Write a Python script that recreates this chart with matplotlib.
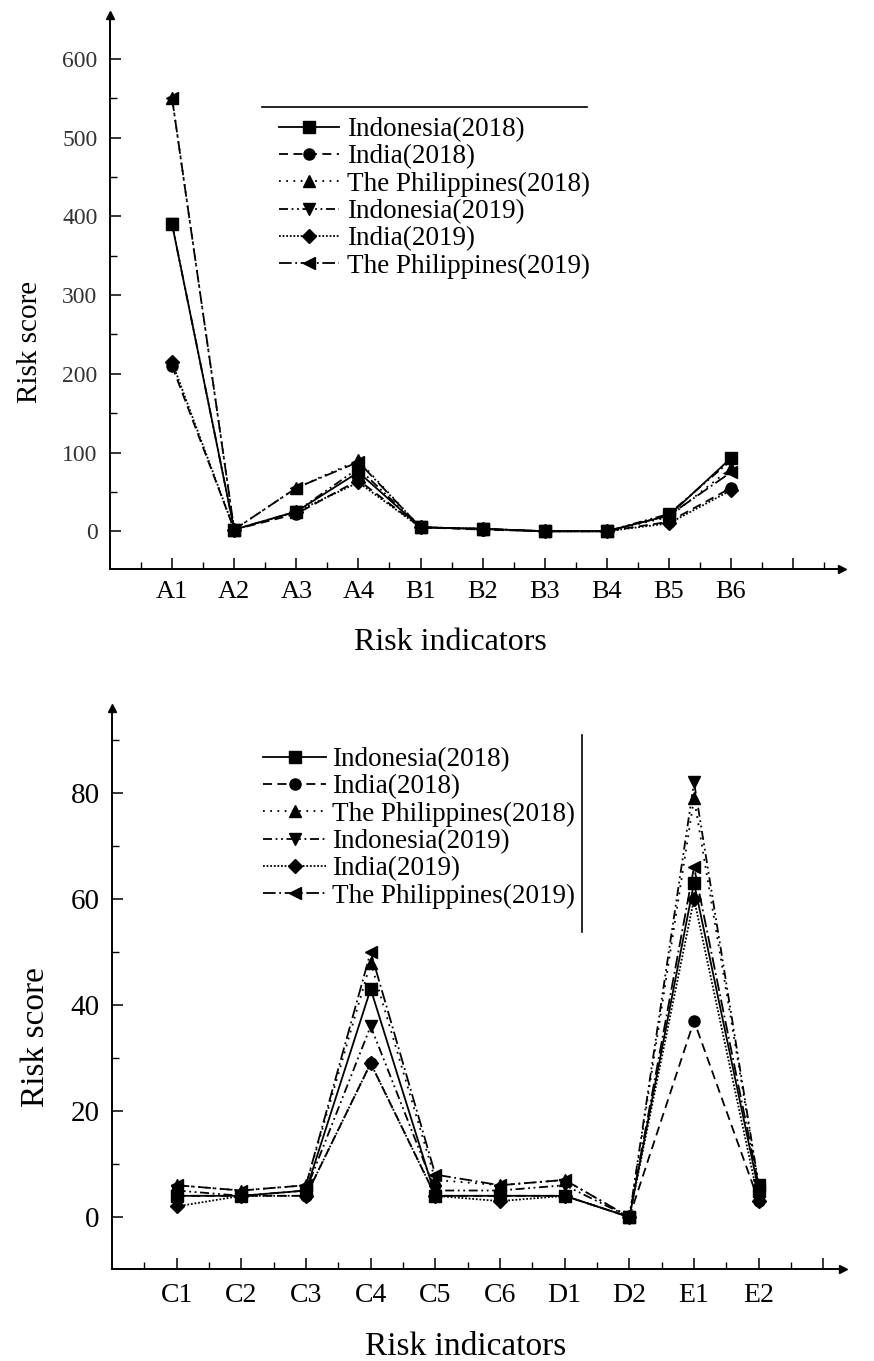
import matplotlib
matplotlib.use("Agg")
import matplotlib.pyplot as plt
from matplotlib.lines import Line2D
from matplotlib.ticker import FixedLocator

plt.rcParams['font.family'] = ['Liberation Serif', 'DejaVu Serif']

# ---------------- data ----------------
series_names = ["Indonesia(2018)", "India(2018)", "The Philippines(2018)",
                "Indonesia(2019)", "India(2019)", "The Philippines(2019)"]

top_categories = ["A1", "A2", "A3", "A4", "B1", "B2", "B3", "B4", "B5", "B6"]
top_indonesia_2018 = [390, 2, 25, 75, 5, 3, 0, 0, 20, 93]
top_india_2018 = [210, 2, 22, 65, 5, 2, 0, 0, 12, 55]
top_philippines_2018 = [550, 2, 55, 90, 5, 3, 0, 0, 18, 80]
top_indonesia_2019 = [390, 2, 25, 80, 5, 3, 0, 0, 22, 90]
top_india_2019 = [215, 2, 25, 62, 5, 3, 0, 0, 10, 52]
top_philippines_2019 = [550, 2, 55, 88, 5, 3, 0, 0, 20, 75]

bot_categories = ["C1", "C2", "C3", "C4", "C5", "C6", "D1", "D2", "E1", "E2"]
bot_indonesia_2018 = [4, 4, 5, 43, 4, 4, 4, 0, 63, 5]
bot_india_2018 = [4, 4, 4, 29, 4, 4, 4, 0, 37, 3]
bot_philippines_2018 = [6, 5, 6, 48, 7, 6, 7, 0, 79, 6]
bot_indonesia_2019 = [5, 4, 5, 36, 5, 5, 6, 0, 82, 6]
bot_india_2019 = [2, 4, 4, 29, 4, 3, 4, 0, 60, 3]
bot_philippines_2019 = [6, 5, 6, 50, 8, 6, 7, 0, 66, 6]

top_series = [top_indonesia_2018, top_india_2018, top_philippines_2018,
              top_indonesia_2019, top_india_2019, top_philippines_2019]
bot_series = [bot_indonesia_2018, bot_india_2018, bot_philippines_2018,
              bot_indonesia_2019, bot_india_2019, bot_philippines_2019]

# ---------------- styles ----------------
markers = ['s', 'o', '^', 'v', 'D', '<']
msizes = [8, 8, 9, 9, 7, 9]
linestyles = ['-', (0, (5, 3)), (0, (1, 3)), (0, (5, 2, 1, 2, 1, 2)),
              (0, (1, 1)), (0, (7, 2, 1, 2))]

W, H = 874, 1361
fig = plt.figure(figsize=(W / 100, H / 100), dpi=100)


def px_axes(left, right, top, bottom):
    return fig.add_axes([left / W, 1 - bottom / H, (right - left) / W, (bottom - top) / H])


def style_axes(ax, spine_w=1.4):
    for s in ['top', 'right']:
        ax.spines[s].set_visible(False)
    for s in ['left', 'bottom']:
        ax.spines[s].set_linewidth(spine_w)
        ax.spines[s].set_color('black')
    ax.tick_params(which='major', direction='in', length=8, width=1.1, color='black')
    ax.tick_params(which='minor', direction='in', length=5, width=1.0, color='black')
    ax.plot(1, 0, marker='>', color='black', markersize=6, transform=ax.transAxes, clip_on=False)
    ax.plot(0, 1, marker='^', color='black', markersize=6, transform=ax.transAxes, clip_on=False)


def draw_lines(ax, series):
    handles = []
    for vals, name, m, ms, ls in zip(series, series_names, markers, msizes, linestyles):
        x = list(range(1, len(vals) + 1))
        h, = ax.plot(x, vals, linestyle=ls, color='black', linewidth=1.3,
                     marker=m, markersize=ms, markerfacecolor='black',
                     markeredgecolor='black', label=name, clip_on=False)
        handles.append(h)
    return handles


# ================= top chart =================
ax1 = px_axes(110, 842, 15, 569)
handles = draw_lines(ax1, top_series)
ax1.set_xlim(0, 732 / 62.1)
ax1.set_ylim(-48, 656)
ax1.xaxis.set_major_locator(FixedLocator(list(range(1, 12))))
ax1.xaxis.set_minor_locator(FixedLocator([i + 0.5 for i in range(0, 12)]))
ax1.set_xticklabels(top_categories + [""])
ax1.yaxis.set_major_locator(FixedLocator([0, 100, 200, 300, 400, 500, 600]))
ax1.yaxis.set_minor_locator(FixedLocator([50, 150, 250, 350, 450, 550]))
style_axes(ax1)
ax1.tick_params(axis='x', which='major', labelsize=19, pad=9)
ax1.tick_params(axis='y', which='major', labelsize=17, pad=9)
for t in ax1.get_yticklabels():
    t.set_color('#333333')
ax1.set_xlabel("Risk indicators", fontsize=23, va='center', ha='center')
ax1.xaxis.set_label_coords((450 - 110) / 732, (569 - 643) / 554)
ax1.set_ylabel("Risk score", fontsize=21, va='center', ha='center')
ax1.yaxis.set_label_coords((30 - 110) / 732, (569 - 342) / 554)

leg1 = ax1.legend(handles=handles, loc='upper left',
                  bbox_to_anchor=((274 - 110) / 732, (569 - 112) / 554),
                  frameon=False, fontsize=19.5, handlelength=2.2,
                  handletextpad=0.3, labelspacing=0.08, borderaxespad=0,
                  borderpad=0.2)
ax1.add_line(Line2D([(262 - 110) / 732, (587 - 110) / 732],
                    [(569 - 107) / 554, (569 - 107) / 554],
                    transform=ax1.transAxes, color='black', linewidth=1.2, clip_on=False))

# ================= bottom chart =================
ax2 = px_axes(112, 843, 708, 1269)
handles2 = draw_lines(ax2, bot_series)
ax2.set_xlim(0, 731 / 64.67)
ax2.set_ylim(-9.8, 96.0)
ax2.xaxis.set_major_locator(FixedLocator(list(range(1, 12))))
ax2.xaxis.set_minor_locator(FixedLocator([i + 0.5 for i in range(0, 11)]))
ax2.set_xticklabels(bot_categories + [""])
ax2.yaxis.set_major_locator(FixedLocator([0, 20, 40, 60, 80]))
ax2.yaxis.set_minor_locator(FixedLocator([10, 30, 50, 70, 90]))
style_axes(ax2)
ax2.tick_params(axis='x', which='major', labelsize=20, pad=10)
ax2.tick_params(axis='y', which='major', labelsize=21, pad=9)
ax2.set_xlabel("Risk indicators", fontsize=24, va='center', ha='center')
ax2.xaxis.set_label_coords((466 - 112) / 731, (1269 - 1347) / 561)
ax2.set_ylabel("Risk score", fontsize=24, va='center', ha='center')
ax2.yaxis.set_label_coords((36 - 112) / 731, (1269 - 1037) / 561)

leg2 = ax2.legend(handles=handles2, loc='upper left',
                  bbox_to_anchor=((258 - 112) / 731, (1269 - 742) / 561),
                  frameon=False, fontsize=19.5, handlelength=2.3,
                  handletextpad=0.25, labelspacing=0.08, borderaxespad=0,
                  borderpad=0.2)
ax2.add_line(Line2D([(582 - 112) / 731, (582 - 112) / 731],
                    [(1269 - 735) / 561, (1269 - 932) / 561],
                    transform=ax2.transAxes, color='black', linewidth=1.2, clip_on=False))

fig.savefig("out.png", dpi=100)
